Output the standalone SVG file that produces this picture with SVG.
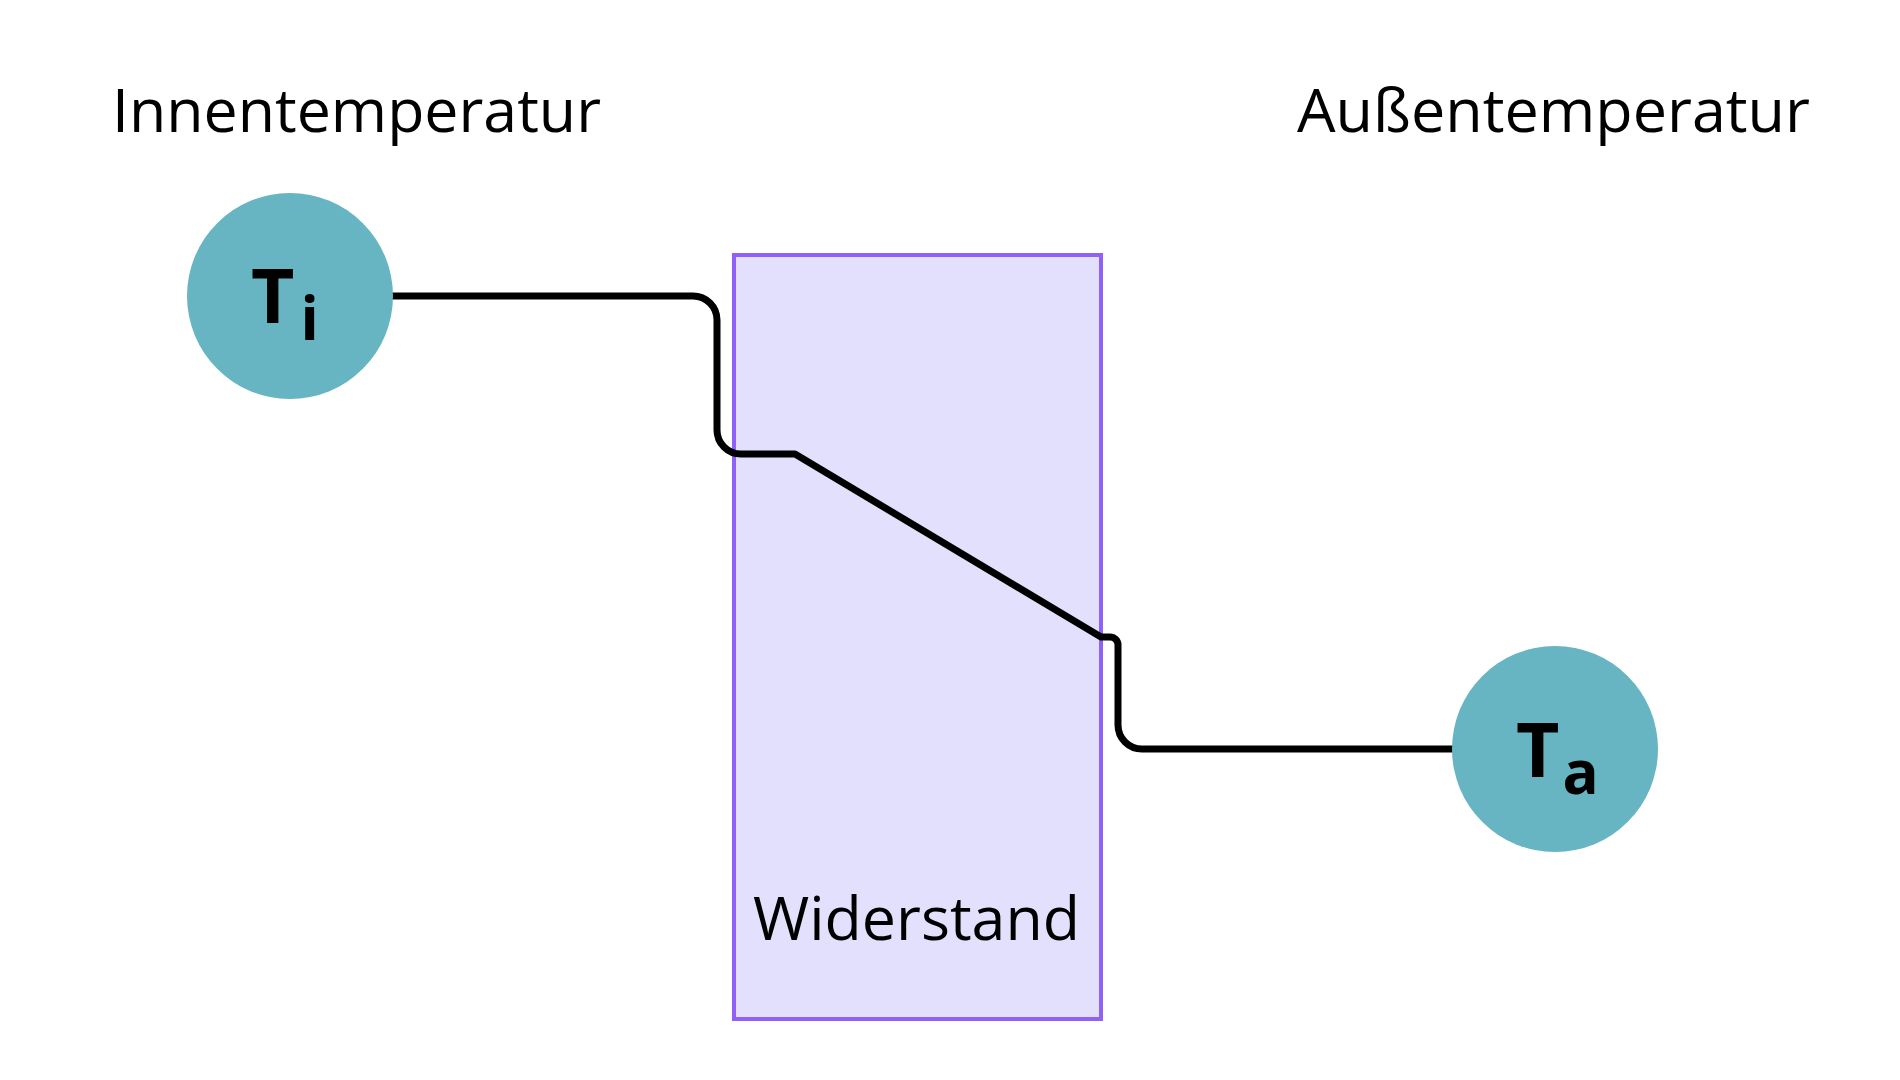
<svg xmlns="http://www.w3.org/2000/svg" width="1900" height="1080" viewBox="0 0 1900 1080">
<style>
.lbl{font-family:"Open Sans","Liberation Sans",sans-serif;font-size:61px;fill:#000}
.sym{font-family:"Open Sans","Liberation Sans",sans-serif;font-weight:bold;fill:#000}
.node{fill:#67B5C2}
.conn{fill:none;stroke:#000;stroke-width:7;stroke-linejoin:round}
</style>
<rect width="1900" height="1080" fill="#fff"/>
<g id="label-innen"><text class="lbl" x="112" y="132" textLength="489" lengthAdjust="spacingAndGlyphs">Innentemperatur</text></g>
<g id="label-aussen"><text class="lbl" x="1297" y="132" textLength="513" lengthAdjust="spacingAndGlyphs">Außentemperatur</text></g>
<g id="widerstand">
<rect x="734" y="255" width="367" height="764" fill="#E3E0FD" stroke="#9061F9" stroke-width="4"/>
<text class="lbl" x="753" y="940" textLength="327" lengthAdjust="spacingAndGlyphs">Widerstand</text>
</g>
<g id="connectors">
<path class="conn" d="M 392 296 H 693 A 24 24 0 0 1 717 320 V 430 A 24 24 0 0 0 741 454 H 795 L 1101 637 H 1110 A 8 8 0 0 1 1118 645 V 725 A 24 24 0 0 0 1142 749 H 1453"/>
</g>
<g id="node-ti">
<circle class="node" cx="290" cy="296" r="103"/>
<text class="sym" x="251" y="323" font-size="75">T<tspan font-size="60" dx="6" dy="17">i</tspan></text>
</g>
<g id="node-ta">
<circle class="node" cx="1555" cy="749" r="103"/>
<text class="sym" x="1516" y="777" font-size="75">T<tspan font-size="60" dx="3" dy="17">a</tspan></text>
</g>
</svg>
